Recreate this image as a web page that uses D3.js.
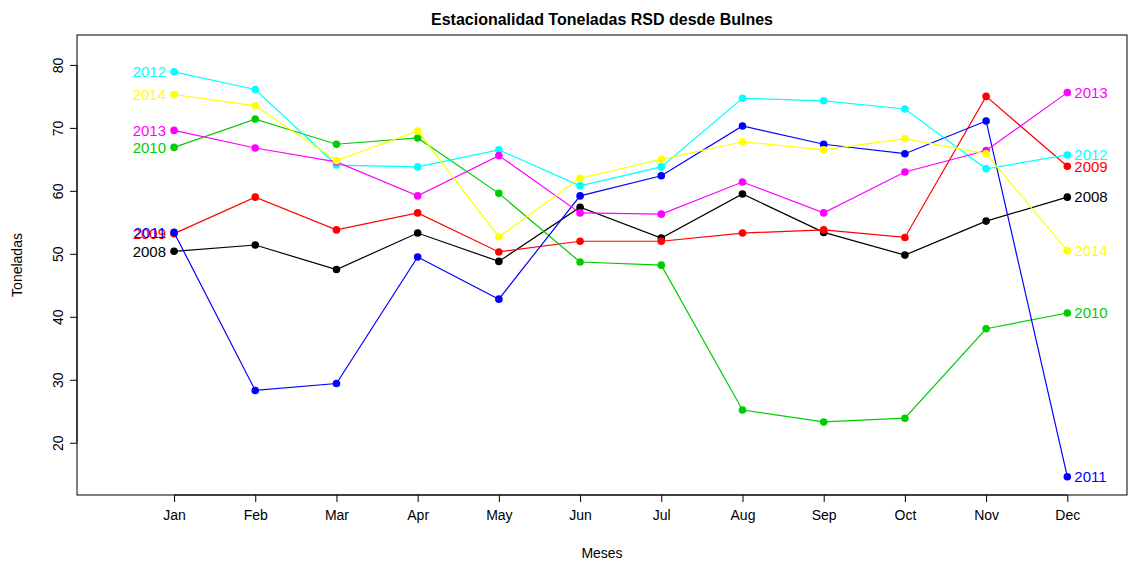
<!DOCTYPE html>
<html>
<head>
<meta charset="utf-8">
<script src="https://cdn.jsdelivr.net/npm/d3@7"></script>
<style>
  body { margin: 0; background: #fff; }
  text { font-family: "Liberation Sans", Arial, sans-serif; }
</style>
</head>
<body>
<div id="chart"></div>
<script>
// Months and yearly series
const months = ["Jan", "Feb", "Mar", "Apr", "May", "Jun", "Jul", "Aug", "Sep", "Oct", "Nov", "Dec"];
const years = ["2008", "2009", "2010", "2011", "2012", "2013", "2014"];
const colors = ["#000000", "#ff0000", "#00cd00", "#0000ff", "#00ffff", "#ff00ff", "#ffff00"];
const s2008 = [50.4, 51.4, 47.5, 53.3, 48.8, 57.4, 52.5, 59.5, 53.4, 49.8, 55.2, 59.0];
const s2009 = [53.2, 59.0, 53.8, 56.5, 50.3, 52.0, 52.0, 53.3, 53.8, 52.6, 75.0, 63.9];
const s2010 = [66.9, 71.4, 67.4, 68.4, 59.6, 48.7, 48.2, 25.2, 23.3, 23.9, 38.1, 40.6];
const s2011 = [53.4, 28.3, 29.4, 49.5, 42.8, 59.2, 62.4, 70.3, 67.4, 65.9, 71.1, 14.6];
const s2012 = [78.9, 76.1, 64.1, 63.8, 66.5, 60.8, 63.8, 74.7, 74.3, 73.0, 63.5, 65.7];
const s2013 = [69.6, 66.8, 64.6, 59.2, 65.6, 56.5, 56.3, 61.4, 56.5, 63.0, 66.4, 75.6];
const s2014 = [75.3, 73.5, 64.8, 69.5, 52.7, 62.0, 65.0, 67.8, 66.5, 68.3, 65.9, 50.5];
const series = [s2008, s2009, s2010, s2011, s2012, s2013, s2014];
const yTicks = [20, 30, 40, 50, 60, 70, 80];

const width = 1137, height = 563;
const plotL = 77, plotR = 1127, plotT = 35, plotB = 495;

const svg = d3.select("#chart").append("svg")
    .attr("width", width).attr("height", height);

const x = d3.scaleLinear().domain([-0.195, 12.735]).range([plotL, plotR]);
const y = d3.scaleLinear().domain([11.7, 84.75]).range([plotB, plotT]);

// Plot box
svg.append("rect")
    .attr("x", plotL).attr("y", plotT)
    .attr("width", plotR - plotL).attr("height", plotB - plotT)
    .attr("fill", "none").attr("stroke", "#000");

// Axes
const xAxis = svg.append("g")
    .attr("transform", `translate(0,${plotB})`)
    .call(d3.axisBottom(x).tickValues(d3.range(1, 13)).tickFormat(d => months[d - 1]).tickSize(7).tickPadding(8));
const yAxis = svg.append("g")
    .attr("transform", `translate(${plotL},0)`)
    .call(d3.axisLeft(y).tickValues(yTicks).tickSize(7));
[xAxis, yAxis].forEach(a => {
    a.select(".domain").remove();
    a.selectAll("text").style("font-size", "14px").attr("fill", "#000");
});
xAxis.append("line").attr("x1", x(1)).attr("x2", x(12)).attr("stroke", "#000");
yAxis.append("line").attr("y1", y(20)).attr("y2", y(80)).attr("stroke", "#000");
yAxis.selectAll(".tick text")
    .attr("x", 0).attr("dy", 0)
    .attr("text-anchor", "middle")
    .attr("transform", "translate(-14,0) rotate(-90)");

// Lines, points and labels
const line = d3.line().x((d, i) => x(i + 1)).y(d => y(d));
series.forEach((vals, k) => {
    const g = svg.append("g");
    g.append("path").datum(vals)
        .attr("d", line).attr("fill", "none")
        .attr("stroke", colors[k]).attr("stroke-width", 1.2);
    g.selectAll("circle").data(vals).enter().append("circle")
        .attr("cx", (d, i) => x(i + 1)).attr("cy", d => y(d))
        .attr("r", 3.8).attr("fill", colors[k]);
    g.append("text")
        .attr("x", x(1) - 8).attr("y", y(vals[0])).attr("dy", "0.35em")
        .attr("text-anchor", "end").attr("fill", colors[k])
        .style("font-size", "15px").text(years[k]);
    g.append("text")
        .attr("x", x(12) + 7).attr("y", y(vals[11])).attr("dy", "0.35em")
        .attr("text-anchor", "start").attr("fill", colors[k])
        .style("font-size", "15px").text(years[k]);
});

// Titles
svg.append("text").attr("x", (plotL + plotR) / 2).attr("y", 25)
    .attr("text-anchor", "middle").style("font-size", "16px").style("font-weight", "bold")
    .text("Estacionalidad Toneladas RSD desde Bulnes");
svg.append("text").attr("x", (plotL + plotR) / 2).attr("y", 558)
    .attr("text-anchor", "middle").style("font-size", "14px").text("Meses");
svg.append("text").attr("transform", `translate(22,${(plotT + plotB) / 2}) rotate(-90)`)
    .attr("text-anchor", "middle").style("font-size", "14px").text("Toneladas");
</script>
</body>
</html>
